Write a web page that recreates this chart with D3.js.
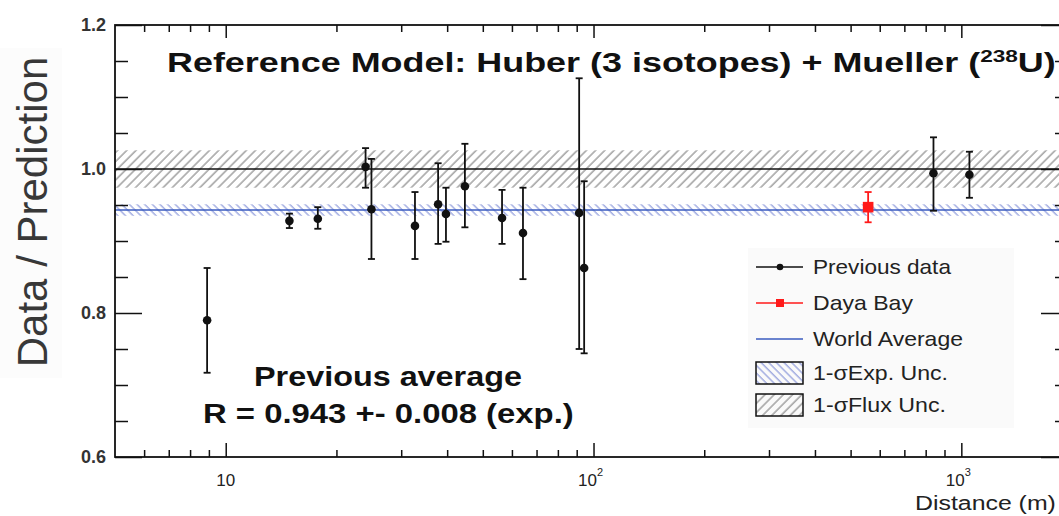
<!DOCTYPE html>
<html><head><meta charset="utf-8">
<script src="https://cdn.jsdelivr.net/npm/d3@7"></script>
<style>
body{margin:0;background:#fff}
svg{display:block}
text{font-family:"Liberation Sans",Arial,Helvetica,sans-serif}
</style>
</head><body>
<svg id="c" width="1059" height="516"></svg>
<script>
// ---- data ----
const prevDistance = [8.9, 14.9, 17.8, 24.0, 24.9, 32.7, 37.8, 39.7, 44.7, 56.4, 64.3, 91.4, 94.3, 840, 1052];
const prevRatio    = [0.790, 0.928, 0.931, 1.003, 0.944, 0.921, 0.951, 0.9375, 0.976, 0.932, 0.911, 0.939, 0.8625, 0.994, 0.992];
const prevErrUp    = [0.0725, 0.010, 0.016, 0.026, 0.070, 0.047, 0.057, 0.0365, 0.059, 0.039, 0.063, 0.187, 0.1205, 0.050, 0.032];
const prevErrDown  = [0.073, 0.010, 0.014, 0.029, 0.069, 0.046, 0.055, 0.0385, 0.057, 0.036, 0.064, 0.189, 0.1185, 0.052, 0.032];
const dayaBayDistance = [558];
const dayaBayRatio    = [0.947];
const dayaBayErr      = [0.021];
const worldAverage = 0.943;
const worldAverageErr = 0.008;
const fluxCenter = 1.0;
const fluxErr = 0.026;
const xMajorTicks = [10, 100, 1000];
const xMajorLabels = [["10",""], ["10","2"], ["10","3"]];
const xMinorTicks = [6,7,8,9,20,30,40,50,60,70,80,90,200,300,400,500,600,700,800,900];
const yMajorTicks = [0.6, 0.8, 1.0, 1.2];
const yMajorLabels = ["0.6","0.8","1.0","1.2"];
const yMinorTicks = [0.65,0.7,0.75,0.85,0.9,0.95,1.05,1.1,1.15];
const legendLabels = ["Previous data","Daya Bay","World Average","1-σExp. Unc.","1-σFlux Unc."];

// ---- layout ----
const L = 115, R = 1068, T = 25, B = 457;
const svg = d3.select("#c");
const x = d3.scaleLog().domain([5, 1950]).range([L, R]);
const y = d3.scaleLinear().domain([0.6, 1.2]).range([B, T]);

// patterns
const defs = svg.append("defs");
const pg = defs.append("pattern").attr("id","hatchGray").attr("patternUnits","userSpaceOnUse")
  .attr("width",6.5).attr("height",6.5).attr("patternTransform","rotate(45)");
pg.append("line").attr("x1",1).attr("x2",1).attr("y1",0).attr("y2",6.5).attr("stroke","#9a9a9a").attr("stroke-width",1.4);
const pb = defs.append("pattern").attr("id","hatchBlue").attr("patternUnits","userSpaceOnUse")
  .attr("width",5.4).attr("height",5.4).attr("patternTransform","rotate(-45)");
pb.append("line").attr("x1",1).attr("x2",1).attr("y1",0).attr("y2",5.4).attr("stroke","#7786d4").attr("stroke-width",1);

const clip = defs.append("clipPath").attr("id","plotClip");
clip.append("rect").attr("x",L).attr("y",T).attr("width",R-L).attr("height",B-T);

// faint box behind y title
svg.append("rect").attr("x",0).attr("y",48).attr("width",62).attr("height",330).attr("fill","#fcfcfc");

const plot = svg.append("g").attr("clip-path","url(#plotClip)");

// bands
plot.append("rect").attr("x",L).attr("width",R-L)
  .attr("y",y(fluxCenter+fluxErr)).attr("height",y(fluxCenter-fluxErr)-y(fluxCenter+fluxErr))
  .attr("fill","url(#hatchGray)");
plot.append("rect").attr("x",L).attr("width",R-L)
  .attr("y",y(worldAverage+worldAverageErr)).attr("height",y(worldAverage-worldAverageErr)-y(worldAverage+worldAverageErr))
  .attr("fill","url(#hatchBlue)");
plot.append("line").attr("x1",L).attr("x2",R).attr("y1",y(fluxCenter)).attr("y2",y(fluxCenter))
  .attr("stroke","#111").attr("stroke-width",1.6);
plot.append("line").attr("x1",L).attr("x2",R).attr("y1",y(worldAverage)).attr("y2",y(worldAverage))
  .attr("stroke","#3a5bbf").attr("stroke-width",1.6);

// previous data
const prev = prevDistance.map((d,i)=>({d, r:prevRatio[i], up:prevErrUp[i], dn:prevErrDown[i]}));
const gp = plot.append("g").attr("stroke","#111").attr("stroke-width",1.8);
prev.forEach(p=>{
  const cx = x(p.d);
  gp.append("line").attr("x1",cx).attr("x2",cx).attr("y1",y(p.r+p.up)).attr("y2",y(p.r-p.dn));
  gp.append("line").attr("x1",cx-3.5).attr("x2",cx+3.5).attr("y1",y(p.r+p.up)).attr("y2",y(p.r+p.up));
  gp.append("line").attr("x1",cx-3.5).attr("x2",cx+3.5).attr("y1",y(p.r-p.dn)).attr("y2",y(p.r-p.dn));
});
plot.append("g").selectAll("circle").data(prev).join("circle")
  .attr("cx",p=>x(p.d)).attr("cy",p=>y(p.r)).attr("r",4.3).attr("fill","#111");

// Daya Bay
const db = dayaBayDistance.map((d,i)=>({d, r:dayaBayRatio[i], e:dayaBayErr[i]}));
const gd = plot.append("g").attr("stroke","#ff1a1a").attr("stroke-width",1.8);
db.forEach(p=>{
  const cx = x(p.d);
  gd.append("line").attr("x1",cx).attr("x2",cx).attr("y1",y(p.r+p.e)).attr("y2",y(p.r-p.e));
  gd.append("line").attr("x1",cx-3.5).attr("x2",cx+3.5).attr("y1",y(p.r+p.e)).attr("y2",y(p.r+p.e));
  gd.append("line").attr("x1",cx-3.5).attr("x2",cx+3.5).attr("y1",y(p.r-p.e)).attr("y2",y(p.r-p.e));
});
plot.append("g").selectAll("rect").data(db).join("rect")
  .attr("x",p=>x(p.d)-5.3).attr("y",p=>y(p.r)-5.3).attr("width",10.6).attr("height",10.6).attr("fill","#ff1a1a");

// axes (ticks inward)
function styleAxis(g){ g.select(".domain").remove(); g.selectAll("line").attr("stroke","#111").attr("stroke-width",1.5); g.selectAll("text").remove(); }
svg.append("g").attr("transform",`translate(0,${B})`).call(d3.axisBottom(x).tickValues(xMajorTicks).tickSize(-14).tickFormat("")).call(styleAxis);
svg.append("g").attr("transform",`translate(0,${B})`).call(d3.axisBottom(x).tickValues(xMinorTicks).tickSize(-7).tickFormat("")).call(styleAxis);
svg.append("g").attr("transform",`translate(0,${T})`).call(d3.axisTop(x).tickValues(xMajorTicks).tickSize(-13).tickFormat("")).call(styleAxis);
svg.append("g").attr("transform",`translate(0,${T})`).call(d3.axisTop(x).tickValues(xMinorTicks).tickSize(-7).tickFormat("")).call(styleAxis);
svg.append("g").attr("transform",`translate(${L},0)`).call(d3.axisLeft(y).tickValues(yMajorTicks).tickSize(-27).tickFormat("")).call(styleAxis);
svg.append("g").attr("transform",`translate(${L},0)`).call(d3.axisLeft(y).tickValues(yMinorTicks).tickSize(-13).tickFormat("")).call(styleAxis);
svg.append("g").attr("transform",`translate(${R},0)`).call(d3.axisRight(y).tickValues(yMajorTicks).tickSize(-27).tickFormat("")).call(styleAxis);
svg.append("g").attr("transform",`translate(${R},0)`).call(d3.axisRight(y).tickValues(yMinorTicks).tickSize(-13).tickFormat("")).call(styleAxis);

// frame
svg.append("rect").attr("x",L).attr("y",T).attr("width",R-L).attr("height",B-T)
  .attr("fill","none").attr("stroke","#111").attr("stroke-width",1.8);

// tick labels
yMajorTicks.forEach((v,i)=>{
  svg.append("text").attr("x",106).attr("y",y(v)).attr("dy","0.36em").attr("text-anchor","end")
    .attr("font-size",18).attr("font-weight","bold").attr("fill","#333").text(yMajorLabels[i]);
});
xMajorTicks.forEach((v,i)=>{
  const t = svg.append("text").attr("x",x(v)-(xMajorLabels[i][1]?3:0)).attr("y",486).attr("text-anchor","middle")
    .attr("font-size",17).attr("fill","#222");
  t.append("tspan").text(xMajorLabels[i][0]);
  if (xMajorLabels[i][1]) t.append("tspan").attr("font-size",11).attr("dy",-10).text(xMajorLabels[i][1]);
});

// fit helper: scale text horizontally to target width
function fitText(sel, x0, y0, targetW){
  const w = sel.node().getBBox().width;
  sel.attr("x",0).attr("y",0).attr("transform",`translate(${x0},${y0}) scale(${targetW/w},1)`);
}

// axis titles
svg.append("text").attr("transform","translate(47,212) rotate(-90)").attr("text-anchor","middle")
  .attr("font-size",42).attr("fill","#383838").text("Data / Prediction");
const xt = svg.append("text").attr("text-anchor","start").attr("font-size",21).attr("fill","#222").text("Distance (m)");
fitText(xt, 915, 510, 141);

// title
const title = svg.append("text").attr("font-size",27).attr("font-weight","bold").attr("fill","#111");
title.append("tspan").text("Reference Model: Huber (3 isotopes) + Mueller (");
title.append("tspan").attr("font-size",17).attr("dy",-10).text("238");
title.append("tspan").attr("dy",10).text("U)");
fitText(title, 167, 72, 889);

// previous average text
const pa = svg.append("text").attr("font-size",28).attr("font-weight","bold").attr("fill","#111").text("Previous average");
fitText(pa, 254, 386, 268);
const pr = svg.append("text").attr("font-size",28).attr("font-weight","bold").attr("fill","#111").text("R = 0.943 +- 0.008 (exp.)");
fitText(pr, 203, 423, 371);

// legend
svg.append("rect").attr("x",748).attr("y",248).attr("width",266).attr("height",180).attr("fill","#fafafa");
const rowsY = [267, 303, 339, 373, 405];
const lg = svg.append("g");
lg.append("line").attr("x1",756).attr("x2",803).attr("y1",rowsY[0]).attr("y2",rowsY[0]).attr("stroke","#111").attr("stroke-width",1.6);
lg.append("circle").attr("cx",780).attr("cy",rowsY[0]).attr("r",3.3).attr("fill","#111");
lg.append("line").attr("x1",756).attr("x2",803).attr("y1",rowsY[1]).attr("y2",rowsY[1]).attr("stroke","#ff1a1a").attr("stroke-width",1.6);
lg.append("rect").attr("x",776).attr("y",rowsY[1]-4).attr("width",8).attr("height",8).attr("fill","#ff1a1a");
lg.append("line").attr("x1",756).attr("x2",803).attr("y1",rowsY[2]).attr("y2",rowsY[2]).attr("stroke","#3a5bbf").attr("stroke-width",1.6);
lg.append("rect").attr("x",756).attr("y",rowsY[3]-11).attr("width",47).attr("height",22).attr("fill","url(#hatchBlue)").attr("stroke","#111").attr("stroke-width",1.5);
lg.append("rect").attr("x",756).attr("y",rowsY[4]-11).attr("width",47).attr("height",22).attr("fill","url(#hatchGray)").attr("stroke","#111").attr("stroke-width",1.5);
const legendW = [139, 100, 150, 135, 133];
legendLabels.forEach((s,i)=>{
  const t = lg.append("text").attr("font-size",20).attr("fill","#222").text(s);
  fitText(t, 813, rowsY[i]+7, legendW[i]);
});
</script>
</body></html>
